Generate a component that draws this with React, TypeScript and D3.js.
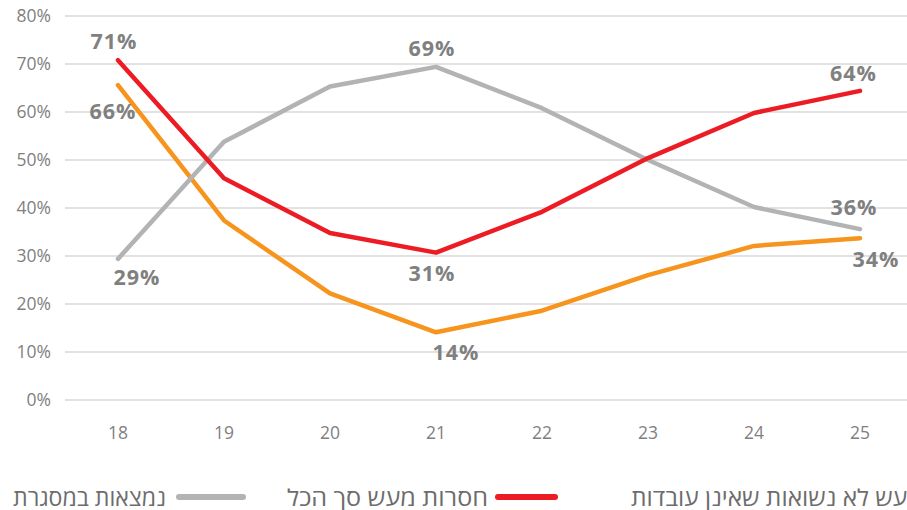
import React from "react";
import * as d3 from "d3";

const categories = ["18", "19", "20", "21", "22", "23", "24", "25"];
const redValues = [70.8, 46.2, 34.8, 30.7, 39.2, 50.4, 59.8, 64.4];
const grayValues = [29.4, 53.8, 65.3, 69.4, 60.8, 50.0, 40.2, 35.6];
const orangeValues = [65.6, 37.4, 22.2, 14.1, 18.6, 26.0, 32.1, 33.7];
const yTicks = [0, 10, 20, 30, 40, 50, 60, 70, 80];
const legendLabels = ["נמצאות במסגרת", "חסרות מעש סך הכל", "חסרות מעש לא נשואות שאינן עובדות"];

// data labels: [series, index, text, dx, dy]
const dataLabels: [string, number, string, number, number][] = [
  ["red", 0, "71%", -4, -19],
  ["orange", 0, "66%", -5, 26],
  ["gray", 0, "29%", 19, 19],
  ["gray", 3, "69%", -4, -18],
  ["red", 3, "31%", -4, 21],
  ["orange", 3, "14%", 20, 20.5],
  ["red", 7, "64%", -6.5, -17],
  ["gray", 7, "36%", -6, -21.5],
  ["orange", 7, "34%", 16, 21],
];

const W = 907, H = 510;
const FONT = "'Open Sans', 'Noto Sans', sans-serif";

export default function App() {
  const x = d3.scaleBand<string>().domain(categories).range([65, 913]);
  const y = d3.scaleLinear().domain([0, 80]).range([400, 16]);
  const cx = (c: string) => (x(c) as number) + x.bandwidth() / 2;
  const line = d3
    .line<number>()
    .x((_, i) => cx(categories[i]))
    .y((d) => y(d));

  const series: Record<string, { values: number[]; color: string }> = {
    gray: { values: grayValues, color: "#b2b3b5" },
    orange: { values: orangeValues, color: "#f7941e" },
    red: { values: redValues, color: "#ed1c24" },
  };

  const legendText = { fontSize: 23, fill: "#6d6d6d", lengthAdjust: "spacingAndGlyphs" } as const;

  return (
    <svg
      width={W}
      height={H}
      style={{ position: "fixed", left: 0, top: 0, background: "#fff" }}
      fontFamily={FONT}
    >
      {yTicks.map((t) => (
        <g key={t}>
          <line x1={65} x2={W} y1={y(t)} y2={y(t)} stroke="#d9d9d9" strokeWidth={1.5} />
          <text x={51} y={y(t)} dy="0.35em" textAnchor="end" fontSize={17.5} fill="#7f7f7f">
            {t}%
          </text>
        </g>
      ))}
      {categories.map((c) => (
        <text key={c} x={cx(c)} y={439} textAnchor="middle" fontSize={17.5} fill="#7f7f7f">
          {c}
        </text>
      ))}
      {["orange", "gray", "red"].map((k) => (
        <path
          key={k}
          d={line(series[k].values) || ""}
          fill="none"
          stroke={series[k].color}
          strokeWidth={4.5}
          strokeLinecap="round"
          strokeLinejoin="round"
        />
      ))}
      {dataLabels.map(([s, i, t, dx, dy], j) => (
        <text
          key={j}
          x={cx(categories[i]) + dx}
          y={y(series[s].values[i]) + dy}
          dy="0.35em"
          textAnchor="middle"
          fontSize={21.5}
          fontWeight="bold"
          letterSpacing={1}
          fill="#808080"
        >
          {t}
        </text>
      ))}
      {/* legend */}
      <text x={13} y={506} textAnchor="start" textLength={153} {...legendText}>
        {legendLabels[0]}
      </text>
      <line x1={179} x2={243} y1={497} y2={497} stroke="#b2b3b5" strokeWidth={6} strokeLinecap="round" />
      <text x={287} y={506} textAnchor="start" textLength={201} {...legendText}>
        {legendLabels[1]}
      </text>
      <line x1={498} x2={555} y1={497} y2={497} stroke="#ed1c24" strokeWidth={6} strokeLinecap="round" />
      <text x={631} y={506} textAnchor="start" textLength={362} {...legendText}>
        {legendLabels[2]}
      </text>
    </svg>
  );
}
